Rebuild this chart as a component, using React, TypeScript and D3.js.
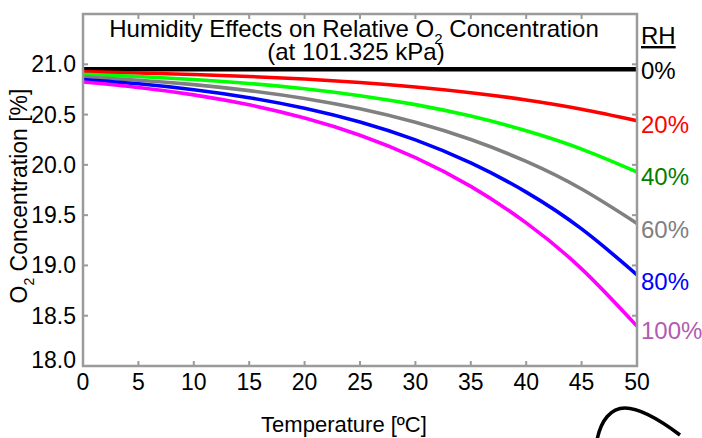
import React from "react";
import * as d3 from "d3";

const temps = [0, 5, 10, 15, 20, 25, 30, 35, 40, 45, 50];
const rh0 = [20.95, 20.95, 20.95, 20.95, 20.95, 20.95, 20.95, 20.95, 20.95, 20.95, 20.95];
const rh20 = [20.925, 20.914, 20.899, 20.879, 20.853, 20.819, 20.774, 20.717, 20.645, 20.553, 20.439];
const rh40 = [20.899, 20.878, 20.848, 20.809, 20.757, 20.688, 20.599, 20.485, 20.339, 20.157, 19.929];
const rh60 = [20.874, 20.842, 20.798, 20.738, 20.66, 20.557, 20.423, 20.252, 20.034, 19.76, 19.418];
const rh80 = [20.849, 20.806, 20.747, 20.668, 20.563, 20.426, 20.248, 20.019, 19.729, 19.363, 18.907];
const rh100 = [20.824, 20.77, 20.696, 20.597, 20.466, 20.295, 20.072, 19.786, 19.423, 18.966, 18.396];

const seriesLabels = ["0%", "20%", "40%", "60%", "80%", "100%"];
const seriesValues = [rh0, rh20, rh40, rh60, rh80, rh100];
const lineColors = ["#000000", "#ff0000", "#00ff00", "#808080", "#0000ff", "#ff00ff"];
const labelColors = ["#000000", "#ff0000", "#008000", "#808080", "#0000ff", "#b05cb0"];
const xTicks = [0, 5, 10, 15, 20, 25, 30, 35, 40, 45, 50];
const yTicks = [18.0, 18.5, 19.0, 19.5, 20.0, 20.5, 21.0];

const W = 702;
const H = 438;
const L = 83, R = 637, T = 14, B = 366;
const FONT = "'Liberation Sans', Arial, sans-serif";

export default function App() {
  const x = d3.scaleLinear().domain([0, 50]).range([L, R]);
  const y = d3.scaleLinear().domain([18, 21.5]).range([B, T]);
  const line = d3
    .line<number>()
    .x((_, i) => x(temps[i]))
    .y((d) => y(d))
    .curve(d3.curveNatural);
  const frame = "#9a9a9a";
  const labelBaselines = [79, 133, 185, 238, 290, 339];

  return (
    <svg
      width={W}
      height={H}
      style={{ position: "absolute", left: 0, top: 0, background: "#fff" }}
      fontFamily={FONT}
    >
      <rect x={0} y={0} width={W} height={H} fill="#fff" />
      {/* ticks */}
      {xTicks.map((t) => (
        <g key={"xt" + t}>
          <line x1={x(t)} x2={x(t)} y1={B} y2={B - 5} stroke={frame} strokeWidth={2} />
          <line x1={x(t)} x2={x(t)} y1={T} y2={T + 5} stroke={frame} strokeWidth={2} />
          <text x={x(t)} y={B + 24} textAnchor="middle" fontSize={23} fill="#000">
            {t}
          </text>
        </g>
      ))}
      {yTicks.map((t) => (
        <g key={"yt" + t}>
          <line x1={L} x2={L + 5} y1={y(t)} y2={y(t)} stroke={frame} strokeWidth={2} />
          <line x1={R} x2={R - 5} y1={y(t)} y2={y(t)} stroke={frame} strokeWidth={2} />
          <text
            x={L - 7}
            y={y(t) + 8 - (t === 18 ? 6 : 0)}
            textAnchor="end"
            fontSize={23}
            fill="#000"
          >
            {t.toFixed(1)}
          </text>
        </g>
      ))}
      {/* lines */}
      {seriesValues.map((vals, i) => (
        <path
          key={"s" + i}
          d={line(vals) || ""}
          fill="none"
          stroke={lineColors[i]}
          strokeWidth={i === 0 ? 4.5 : 3.6}
        />
      ))}
      {/* frame */}
      <rect x={L} y={T} width={R - L} height={B - T} fill="none" stroke={frame} strokeWidth={2.5} />
      {/* title */}
      <text x={354} y={37} textAnchor="middle" fontSize={24} fill="#000">
        Humidity Effects on Relative O
        <tspan fontSize={15} dy={7}>2</tspan>
        <tspan dy={-7}> Concentration</tspan>
      </text>
      <text x={356} y={60} textAnchor="middle" fontSize={24} fill="#000">
        (at 101.325 kPa)
      </text>
      {/* RH legend */}
      <text x={641} y={44} fontSize={24} fill="#000" textDecoration="underline">
        RH
      </text>
      {seriesLabels.map((lab, i) => (
        <text key={"l" + i} x={641} y={labelBaselines[i]} fontSize={24} fill={labelColors[i]}>
          {lab}
        </text>
      ))}
      {/* axis titles */}
      <text x={344} y={432} textAnchor="middle" fontSize={22} fill="#000">
        Temperature [ºC]
      </text>
      <text
        transform="translate(27,196) rotate(-90)"
        textAnchor="middle"
        fontSize={23}
        fill="#000"
      >
        O<tspan fontSize={14} dy={7}>2</tspan>
        <tspan dy={-7}> Concentration [%]</tspan>
      </text>
      {/* partial decoration at bottom right */}
      <path
        d="M597,440 C601,420 611,408 625,408 C640,408 660,420 680,435"
        fill="none"
        stroke="#000"
        strokeWidth={3.5}
      />
    </svg>
  );
}
